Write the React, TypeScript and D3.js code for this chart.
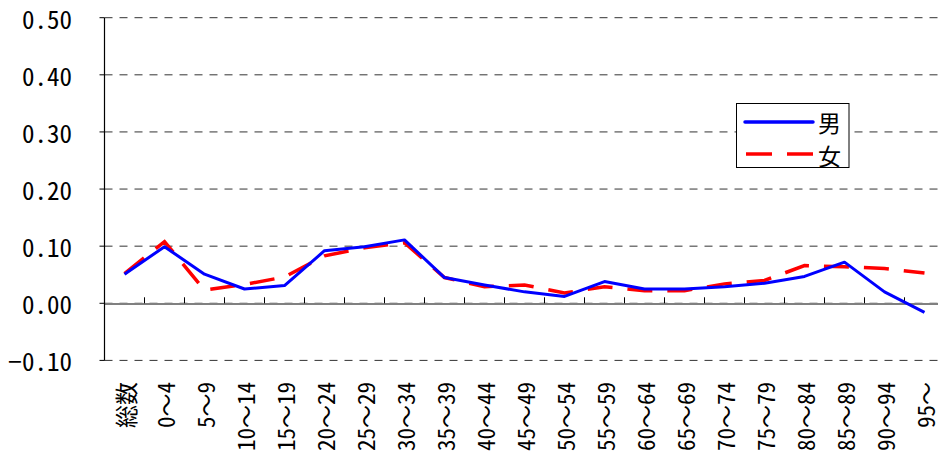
import React from 'react';
import * as d3 from 'd3';

const categories = ['総数', '0～4', '5～9', '10～14', '15～19', '20～24', '25～29', '30～34', '35～39', '40～44', '45～49', '50～54', '55～59', '60～64', '65～69', '70～74', '75～79', '80～84', '85～89', '90～94', '95～'];
const male = [0.051, 0.099, 0.051, 0.025, 0.031, 0.092, 0.099, 0.111, 0.045, 0.032, 0.020, 0.012, 0.038, 0.025, 0.025, 0.029, 0.035, 0.047, 0.072, 0.020, -0.016];
const female = [0.052, 0.108, 0.023, 0.033, 0.046, 0.083, 0.097, 0.106, 0.045, 0.029, 0.032, 0.018, 0.029, 0.022, 0.022, 0.034, 0.040, 0.066, 0.064, 0.061, 0.053];
const yTicks = [-0.1, 0, 0.1, 0.2, 0.3, 0.4, 0.5];
const seriesNames = ['男', '女'];

const FONT = "'Noto Sans Mono CJK JP','Noto Sans CJK JP','DejaVu Sans Mono',monospace";

export default function App() {
  const W = 938, H = 457;
  const left = 104.5, right = 944.5, top = 17.7, bottom = 360.4;
  const x = d3.scaleBand<string>().domain(categories).range([left, right]);
  const y = d3.scaleLinear().domain([-0.1, 0.5]).range([bottom, top]);
  const cx = (c: string) => (x(c) as number) + x.bandwidth() / 2;
  const line = d3.line<number>().x((_, i) => cx(categories[i])).y((d) => y(d));
  const fmt = d3.format('.2f');
  const y0 = y(0);
  const boundaries = d3.range(categories.length + 1).map((k) => left + k * x.bandwidth());

  return (
    <svg width={W} height={H} style={{ position: 'absolute', left: 0, top: 0, background: '#fff' }}>
      <rect x={0} y={0} width={W} height={H} fill="#fff" />
      {yTicks.map((t) => (
        <line key={'g' + t} x1={left} x2={W} y1={y(t)} y2={y(t)} stroke="#333" strokeWidth={1} strokeDasharray="8,7" />
      ))}
      <line x1={left} x2={W} y1={y0 + 0.8} y2={y0 + 0.8} stroke="#808080" strokeWidth={2} />
      {boundaries.map((b, i) => (
        <line key={'xt' + i} x1={b} x2={b} y1={y0} y2={y0 - 6} stroke="#000" strokeWidth={1} />
      ))}
      <line x1={left} x2={left} y1={top} y2={bottom} stroke="#000" strokeWidth={1.2} />
      {yTicks.map((t) => (
        <g key={'yt' + t}>
          <line x1={left - 5} x2={left} y1={y(t)} y2={y(t)} stroke="#000" strokeWidth={1} />
          <text x={72} y={y(t)} textAnchor="end" dominantBaseline="central" fontFamily={FONT} fontSize={25} fill="#000">
            {fmt(t).replace('-', '−')}
          </text>
        </g>
      ))}
      {categories.map((c) => (
        <text key={'xl' + c} transform={`translate(${cx(c)},382) rotate(-90)`} textAnchor="end" dominantBaseline="central" fontFamily={FONT} fontSize={23} fill="#000">
          {c}
        </text>
      ))}
      <path d={line(female) || ''} fill="none" stroke="#ff0000" strokeWidth={3.5} strokeDasharray="25,15" />
      <path d={line(male) || ''} fill="none" stroke="#0000ff" strokeWidth={3} strokeLinejoin="round" />
      <rect x={736.5} y={103.5} width={112.5} height={64} fill="#fff" stroke="#000" strokeWidth={1} />
      <line x1={745} x2={813} y1={122} y2={122} stroke="#0000ff" strokeWidth={3.5} strokeLinecap="round" />
      <line x1={746} x2={813} y1={154} y2={154} stroke="#ff0000" strokeWidth={3.5} strokeDasharray="26,15" />
      <text x={818} y={122} dominantBaseline="central" fontFamily={FONT} fontSize={23} fill="#000">{seriesNames[0]}</text>
      <text x={818} y={155} dominantBaseline="central" fontFamily={FONT} fontSize={23} fill="#000">{seriesNames[1]}</text>
    </svg>
  );
}
